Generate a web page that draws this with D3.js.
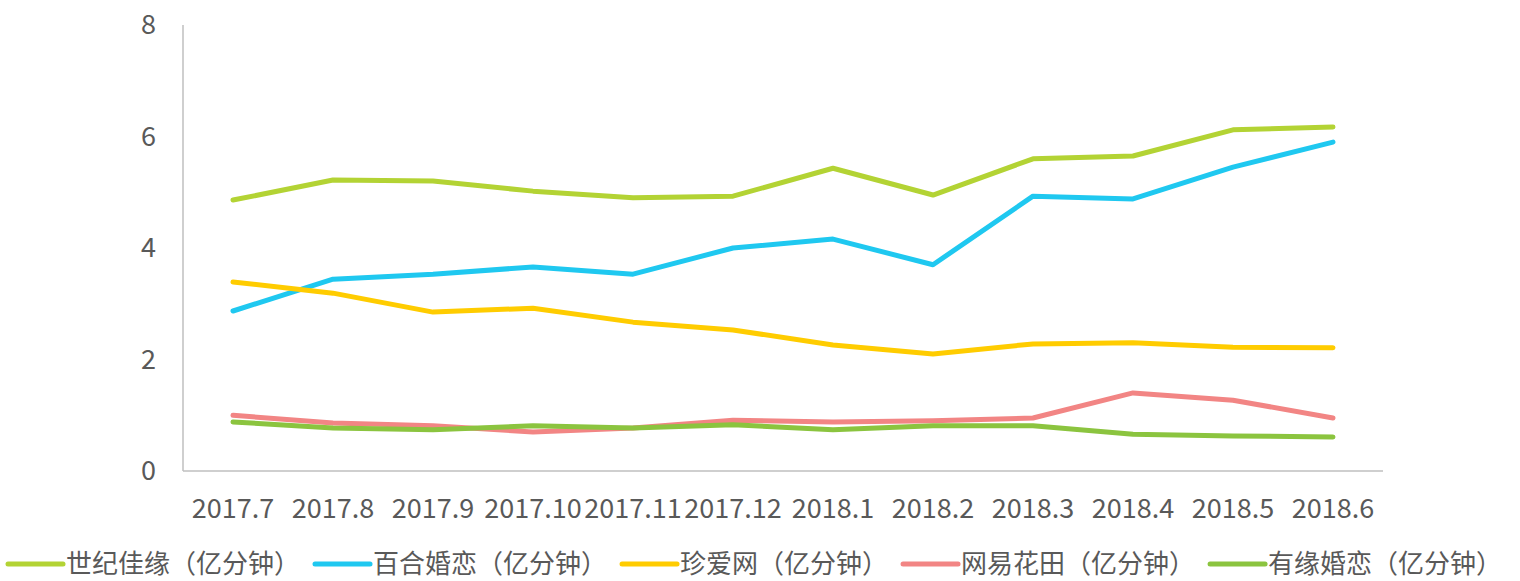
<!DOCTYPE html>
<html>
<head>
<meta charset="utf-8">
<script src="https://cdn.jsdelivr.net/npm/d3@7"></script>
<style>
  body { margin: 0; background: #fff; }
  text { font-family: "Noto Sans CJK SC", "Noto Sans", sans-serif; fill: #595959; }
</style>
</head>
<body>
<div id="chart"></div>
<script>
// categories and values
const months = ["2017.7", "2017.8", "2017.9", "2017.10", "2017.11", "2017.12",
                "2018.1", "2018.2", "2018.3", "2018.4", "2018.5", "2018.6"];
const yTicks = [0, 2, 4, 6, 8];

const shijijiayuan = [4.86, 5.22, 5.2, 5.02, 4.9, 4.93, 5.43, 4.95, 5.6, 5.65, 6.12, 6.17];
const baihe        = [2.87, 3.44, 3.53, 3.66, 3.53, 4.0, 4.16, 3.7, 4.93, 4.88, 5.45, 5.9];
const zhenai       = [3.39, 3.19, 2.85, 2.92, 2.67, 2.53, 2.26, 2.1, 2.28, 2.3, 2.22, 2.21];
const huatian      = [1.0, 0.86, 0.81, 0.7, 0.77, 0.91, 0.88, 0.9, 0.95, 1.4, 1.27, 0.95];
const youyuan      = [0.88, 0.77, 0.74, 0.81, 0.77, 0.83, 0.74, 0.81, 0.81, 0.66, 0.63, 0.61];

const seriesNames = ["世纪佳缘（亿分钟）", "百合婚恋（亿分钟）", "珍爱网（亿分钟）", "网易花田（亿分钟）", "有缘婚恋（亿分钟）"];
const seriesColors = ["#b3d334", "#1fc8f0", "#ffcc00", "#f28584", "#8bc43f"];
const seriesValues = [shijijiayuan, baihe, zhenai, huatian, youyuan];

const W = 1520, H = 581;
const margin = {top: 25, right: 137, bottom: 110, left: 183};
const width = W - margin.left - margin.right;
const height = H - margin.top - margin.bottom;

const svg = d3.select("#chart").append("svg")
    .attr("width", W)
    .attr("height", H);

const g = svg.append("g")
    .attr("transform", `translate(${margin.left},${margin.top})`);

const x = d3.scaleBand().domain(months).range([0, width]);
const y = d3.scaleLinear().domain([0, 8]).range([height, 0]);

// axes lines
g.append("line")
    .attr("x1", 0).attr("x2", 0).attr("y1", 0).attr("y2", height)
    .attr("stroke", "#bfbfbf").attr("stroke-width", 1.5);
g.append("line")
    .attr("x1", 0).attr("x2", width).attr("y1", height).attr("y2", height)
    .attr("stroke", "#bfbfbf").attr("stroke-width", 1.5);

// y tick labels
g.selectAll(".ylab")
    .data(yTicks)
    .enter().append("text")
    .attr("x", -27)
    .attr("y", d => y(d))
    .attr("dy", "0.35em")
    .attr("text-anchor", "end")
    .style("font-size", "27px")
    .text(d => d);

// x tick labels
g.selectAll(".xlab")
    .data(months)
    .enter().append("text")
    .attr("x", d => x(d) + x.bandwidth() / 2)
    .attr("y", height + 47)
    .attr("text-anchor", "middle")
    .style("font-size", "27px")
    .text(d => d);

const line = d3.line()
    .x((d, i) => x(months[i]) + x.bandwidth() / 2)
    .y(d => y(d));

// draw lines, last series on top like the reference
seriesValues.forEach((vals, i) => {
    g.append("path")
        .datum(vals)
        .attr("d", line)
        .attr("fill", "none")
        .attr("stroke", seriesColors[i])
        .attr("stroke-width", 5)
        .attr("stroke-linecap", "round")
        .attr("stroke-linejoin", "round");
});

// legend
const legend = svg.append("g").attr("transform", "translate(0,564)");
let lx = 8;
seriesNames.forEach((name, i) => {
    const item = legend.append("g").attr("transform", `translate(${lx},0)`);
    item.append("line")
        .attr("x1", 0).attr("x2", 55).attr("y1", 0).attr("y2", 0)
        .attr("stroke", seriesColors[i]).attr("stroke-width", 5)
        .attr("stroke-linecap", "round");
    const t = item.append("text")
        .attr("x", 58)
        .attr("dy", "0.35em")
        .style("font-size", "26px")
        .text(name);
    lx += 58 + t.node().getComputedTextLength() + 15;
});
</script>
</body>
</html>
